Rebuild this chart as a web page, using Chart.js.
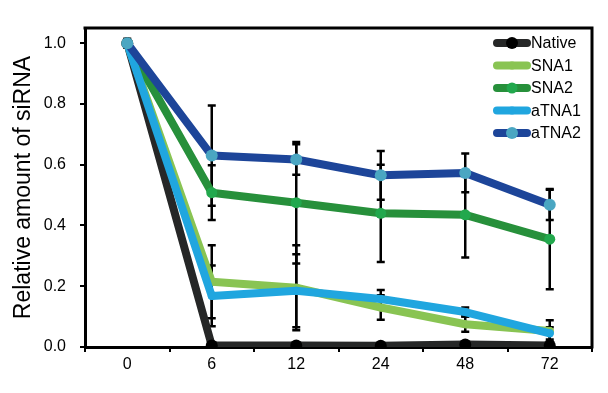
<!DOCTYPE html>
<html>
<head>
<meta charset="utf-8">
<script src="https://cdn.jsdelivr.net/npm/chart.js@4.4.1/dist/chart.umd.min.js"></script>
<style>
html,body{margin:0;padding:0;background:#fff;}
#wrap{width:608px;height:393px;}
</style>
</head>
<body>
<div id="wrap"><canvas id="c" width="608" height="393"></canvas></div>
<script>
const categories = ['0', '6', '12', '24', '48', '72'];
const yTicks = [0, 0.2, 0.4, 0.6, 0.8, 1.0];

const nativeVals = [1.0, 0.005, 0.005, 0.004, 0.008, 0.005];
const sna1Vals   = [1.0, 0.215, 0.195, 0.13, 0.075, 0.053];
const sna2Vals   = [1.0, 0.508, 0.475, 0.44, 0.435, 0.355];
const atna1Vals  = [1.0, 0.168, 0.185, 0.158, 0.115, 0.045];
const atna2Vals  = [1.0, 0.63, 0.617, 0.565, 0.573, 0.468];

const nativeErr = [0, 0, 0, 0, 0, 0];
const sna1Err   = [0.015, 0.12, 0.14, 0.04, 0.025, 0.035];
const sna2Err   = [0, 0.09, 0.2, 0.16, 0.14, 0.165];
const atna1Err  = [0, 0.1, 0.12, 0.03, 0.015, 0.02];
const atna2Err  = [0, 0.165, 0.05, 0.08, 0.064, 0.05];

const FONT = "'Liberation Sans', Arial, sans-serif";

function ds(label, data, err, lineColor, pointColor, order, radius) {
  return {
    label, data, err,
    borderColor: lineColor,
    backgroundColor: pointColor,
    pointBackgroundColor: pointColor,
    pointBorderColor: pointColor,
    pointBorderWidth: 0,
    pointRadius: radius,
    borderWidth: 8,
    borderJoinStyle: 'round',
    borderCapStyle: 'round',
    tension: 0,
    order
  };
}

const datasets = [
  ds('Native', nativeVals, nativeErr, '#262727', '#000000', 5, 6),
  ds('SNA1', sna1Vals, sna1Err, '#89c453', '#89c453', 4, 4),
  ds('SNA2', sna2Vals, sna2Err, '#27903b', '#22a84d', 3, 5.5),
  ds('aTNA1', atna1Vals, atna1Err, '#20a6df', '#20a6df', 2, 4),
  ds('aTNA2', atna2Vals, atna2Err, '#1d4599', '#4aa6c2', 1, 6)
];

const errorBars = {
  id: 'errorBars',
  beforeDatasetsDraw(chart) {
    const ctx = chart.ctx;
    const y = chart.scales.y;
    ctx.save();
    ctx.strokeStyle = '#000';
    ctx.lineWidth = 2.5;
    chart.data.datasets.forEach((d, di) => {
      const meta = chart.getDatasetMeta(di);
      meta.data.forEach((pt, i) => {
        const e = d.err[i];
        if (!e) return;
        const x = pt.x;
        const yt = y.getPixelForValue(d.data[i] + e);
        const yb = y.getPixelForValue(d.data[i] - e);
        ctx.beginPath();
        ctx.moveTo(x, yt); ctx.lineTo(x, yb);
        ctx.moveTo(x - 4, yt); ctx.lineTo(x + 4, yt);
        ctx.moveTo(x - 4, yb); ctx.lineTo(x + 4, yb);
        ctx.stroke();
      });
    });
    ctx.restore();
  }
};

const frame = {
  id: 'frame',
  afterDraw(chart) {
    const {ctx, chartArea: a} = chart;
    ctx.save();
    ctx.strokeStyle = '#000';
    ctx.lineWidth = 3;
    ctx.beginPath();
    ctx.moveTo(a.left - 1.5, a.top);
    ctx.lineTo(a.right, a.top);
    ctx.lineTo(a.right, a.bottom + 1.5);
    ctx.stroke();
    ctx.restore();
  }
};

const legendBox = {
  id: 'legendBox',
  afterDraw(chart) {
    const ctx = chart.ctx;
    ctx.save();
    ctx.font = '16px ' + FONT;
    ctx.textBaseline = 'middle';
    ctx.textAlign = 'left';
    const x0 = 497, x1 = 527, tx = 531;
    chart.data.datasets.forEach((d, i) => {
      const yy = 43 + i * 22.5;
      ctx.strokeStyle = d.borderColor;
      ctx.lineWidth = 8;
      ctx.lineCap = 'round';
      ctx.beginPath();
      ctx.moveTo(x0, yy); ctx.lineTo(x1, yy);
      ctx.stroke();
      ctx.fillStyle = d.pointBackgroundColor;
      ctx.beginPath();
      ctx.arc((x0 + x1) / 2, yy, d.pointRadius, 0, Math.PI * 2);
      ctx.fill();
      ctx.fillStyle = '#000';
      ctx.fillText(d.label, tx, yy + 1);
    });
    ctx.restore();
  }
};

new Chart(document.getElementById('c'), {
  type: 'line',
  data: { labels: categories, datasets },
  plugins: [errorBars, frame, legendBox],
  options: {
    responsive: false,
    animation: false,
    devicePixelRatio: 1,
    layout: { padding: { top: 28, right: 16, left: 0, bottom: 0 } },
    plugins: { legend: { display: false }, tooltip: { enabled: false } },
    scales: {
      x: {
        type: 'category',
        offset: true,
        grid: { offset: true, drawOnChartArea: false, drawTicks: true, tickLength: 5, color: '#000', lineWidth: 2 },
        border: { color: '#000', width: 3 },
        ticks: { color: '#000', font: { size: 16, family: FONT }, padding: 3, maxRotation: 0 },
        afterFit(s) { s.height = 46; }
      },
      y: {
        min: 0, max: 1.05,
        afterBuildTicks(s) { s.ticks = yTicks.map(v => ({ value: v })); },
        grid: { drawOnChartArea: false, drawTicks: true, tickLength: 5, color: '#000', lineWidth: 2 },
        border: { color: '#000', width: 3 },
        ticks: { color: '#000', font: { size: 16, family: FONT }, padding: 14, callback: v => Number(v).toFixed(1) },
        title: { display: true, text: 'Relative amount of siRNA', color: '#000', font: { size: 23, family: FONT }, padding: { top: 10, bottom: 0 } },
        afterFit(s) { s.width = 85; }
      }
    }
  }
});
</script>
</body>
</html>
